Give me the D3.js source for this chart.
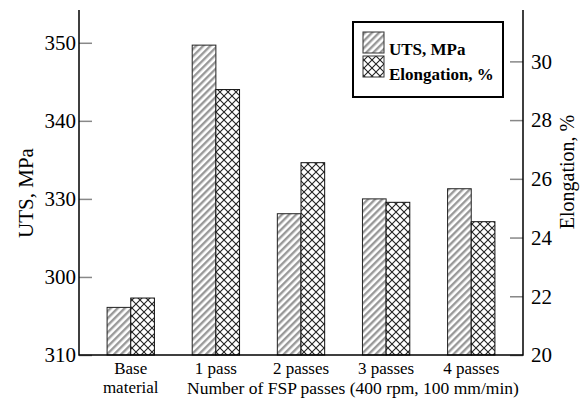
<!DOCTYPE html>
<html>
<head>
<meta charset="utf-8">
<script src="https://cdn.jsdelivr.net/npm/d3@7"></script>
<style>
  html, body { margin: 0; padding: 0; background: #fff; }
  svg { display: block; }
  text { font-family: "Liberation Serif", "Times New Roman", serif; fill: #000; }
</style>
</head>
<body>
<svg id="chart" width="587" height="401"></svg>
<script>
// ---- data ----
const categories = ["Base material", "1 pass", "2 passes", "3 passes", "4 passes"];
const categoryLines = [["Base", "material"], ["1 pass"], ["2 passes"], ["3 passes"], ["4 passes"]];
const utsValues = [316.1, 349.7, 328.1, 330.0, 331.3];
const elongationValues = [21.94, 29.04, 26.55, 25.2, 24.54];
const utsTickValues = [310, 320, 330, 340, 350];
const utsTickLabels = ["310", "300", "330", "340", "350"];
const elongTickValues = [20, 22, 24, 26, 28, 30];
const seriesNames = ["UTS, MPa", "Elongation, %"];

(function () {
const svg = d3.select("#chart");
const mLeft = 79, mRight = 523, mTop = 10, mBottom = 355;

const defs = svg.append("defs");
const stripes = defs.append("pattern")
  .attr("id", "stripes").attr("patternUnits", "userSpaceOnUse")
  .attr("width", 5).attr("height", 5)
  .attr("patternTransform", "rotate(45)");
stripes.append("rect").attr("width", 5).attr("height", 5).attr("fill", "#fff");
stripes.append("rect").attr("x", 0).attr("width", 2.4).attr("height", 5).attr("fill", "#999");

const cross = defs.append("pattern")
  .attr("id", "cross").attr("patternUnits", "userSpaceOnUse")
  .attr("width", 8).attr("height", 8);
cross.append("rect").attr("width", 8).attr("height", 8).attr("fill", "#fff");
cross.append("path").attr("d", "M0,0L8,8M8,0L0,8")
  .attr("stroke", "#222").attr("stroke-width", 1.1).attr("fill", "none");

const x0 = d3.scaleBand().domain(categories).range([mLeft, mRight])
  .paddingInner(0.444).paddingOuter(0.33);
const x1 = d3.scaleBand().domain(seriesNames).range([0, x0.bandwidth()]);
const yL = d3.scaleLinear().domain([310, 354.2]).range([mBottom, mTop]);
const yR = d3.scaleLinear().domain([20, 31.75]).range([mBottom, mTop]);

// bars
const g = svg.append("g");
categories.forEach((c, i) => {
  g.append("rect")
    .attr("x", x0(c) + x1(seriesNames[0]))
    .attr("y", yL(utsValues[i]))
    .attr("width", x1.bandwidth())
    .attr("height", yL(310) - yL(utsValues[i]))
    .attr("fill", "url(#stripes)").attr("stroke", "#222").attr("stroke-width", 1);
  g.append("rect")
    .attr("x", x0(c) + x1(seriesNames[1]))
    .attr("y", yR(elongationValues[i]))
    .attr("width", x1.bandwidth())
    .attr("height", yR(20) - yR(elongationValues[i]))
    .attr("fill", "url(#cross)").attr("stroke", "#111").attr("stroke-width", 1);
});

// left axis (ticks inward)
const axL = svg.append("g").attr("transform", `translate(${mLeft},0)`)
  .call(d3.axisRight(yL).tickValues(utsTickValues).tickSize(13)
    .tickFormat((d, i) => utsTickLabels[i]));
axL.select(".domain").remove();
axL.selectAll(".tick line").attr("stroke", "#888").attr("stroke-width", 1.5);
axL.selectAll(".tick text").attr("x", -3).attr("text-anchor", "end")
  .style("font-size", "21px").style("font-family", "Liberation Serif");

// right axis (ticks inward)
const axR = svg.append("g").attr("transform", `translate(${mRight},0)`)
  .call(d3.axisLeft(yR).tickValues(elongTickValues).tickSize(13).tickFormat(d3.format("d")));
axR.select(".domain").remove();
axR.selectAll(".tick line").attr("stroke", "#888").attr("stroke-width", 1.5);
axR.selectAll(".tick text").attr("x", 8).attr("text-anchor", "start")
  .style("font-size", "21px").style("font-family", "Liberation Serif");

// axis lines
svg.append("path")
  .attr("d", `M${mLeft},${mTop}V${mBottom}H${mRight}V${mTop}`)
  .attr("fill", "none").attr("stroke", "#000").attr("stroke-width", 1.5);

// category labels
categories.forEach((c, i) => {
  const cx = x0(c) + x0.bandwidth() / 2;
  categoryLines[i].forEach((ln, j) => {
    svg.append("text").attr("x", cx).attr("y", 374 + j * 19)
      .attr("text-anchor", "middle").style("font-size", "17px").text(ln);
  });
});

// axis titles
svg.append("text").attr("x", 187).attr("y", 394)
  .style("font-size", "17.5px").text("Number of FSP passes (400 rpm, 100 mm/min)");
svg.append("text").attr("transform", "translate(33,193) rotate(-90)")
  .attr("text-anchor", "middle").style("font-size", "21px").text("UTS, MPa");
svg.append("text").attr("transform", "translate(574,172) rotate(-90)")
  .attr("text-anchor", "middle").style("font-size", "20px").text("Elongation, %");

// legend
const lg = svg.append("g");
lg.append("rect").attr("x", 353).attr("y", 22).attr("width", 150).attr("height", 75)
  .attr("fill", "#fff").attr("stroke", "#000").attr("stroke-width", 2);
const fills = ["url(#stripes)", "url(#cross)"];
seriesNames.forEach((s, i) => {
  lg.append("rect").attr("x", 363).attr("y", 32 + i * 24).attr("width", 21).attr("height", 21)
    .attr("fill", fills[i]).attr("stroke", "#333").attr("stroke-width", 1);
  lg.append("text").attr("x", 389).attr("y", 55 + i * 25)
    .style("font-size", "17px").style("font-weight", "bold").text(s);
});
})();
</script>
</body>
</html>
